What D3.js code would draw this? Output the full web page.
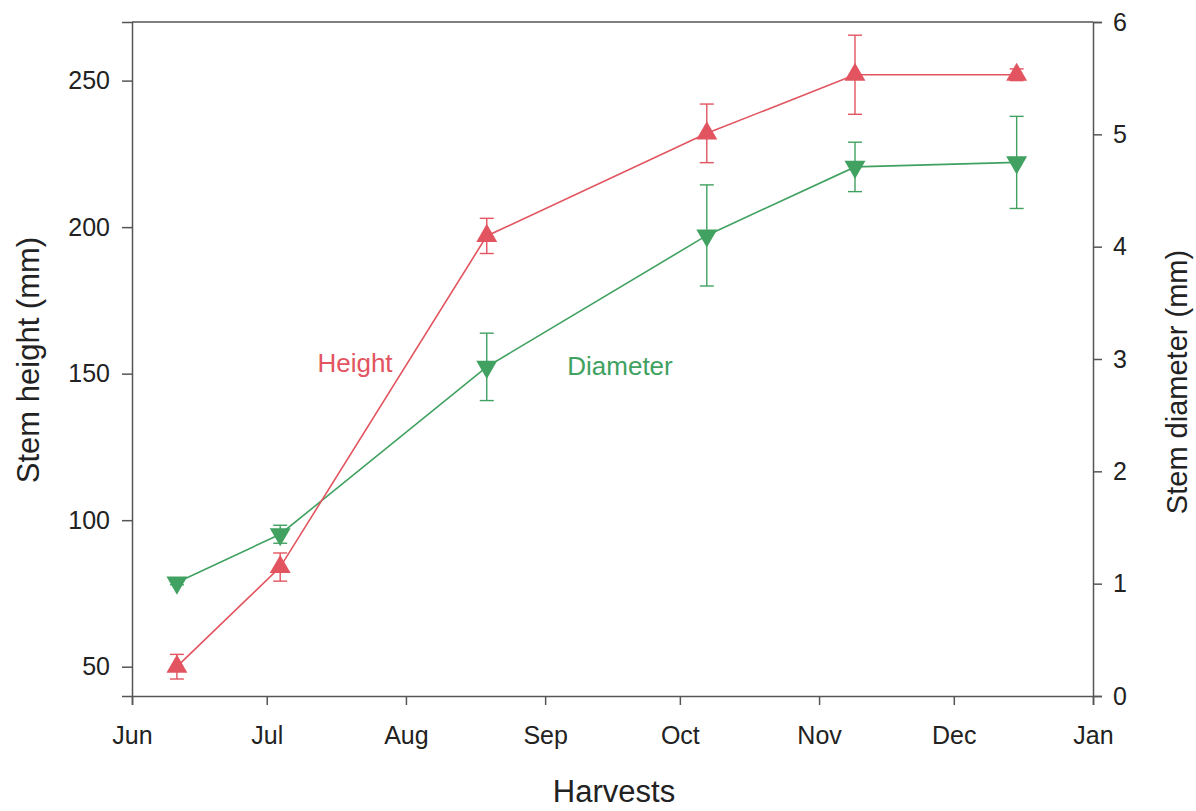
<!DOCTYPE html>
<html>
<head>
<meta charset="utf-8">
<script src="https://cdn.jsdelivr.net/npm/d3@7"></script>
<style>
  html, body { margin: 0; padding: 0; background: #fff; }
  svg { display: block; font-family: "Liberation Sans", Arial, sans-serif; }
</style>
</head>
<body>
<svg id="chart" width="1196" height="811"></svg>
<script>
// Harvest dates (season 2000)
const harvestDates = ["2000-06-11", "2000-07-04", "2000-08-19", "2000-10-07", "2000-11-09", "2000-12-15"];
// Stem height (mm), mean and error
const heightMean = [50, 84, 197, 232, 252, 252];
const heightErr  = [4.2, 4.8, 6, 10, 13.5, 2];
// Stem diameter (mm), mean and error
const diamMean = [1.01, 1.44, 2.93, 4.10, 4.71, 4.75];
const diamErr  = [0.02, 0.08, 0.30, 0.45, 0.22, 0.41];
// Axis ticks
const monthTicks = ["2000-06-01","2000-07-01","2000-08-01","2000-09-01","2000-10-01","2000-11-01","2000-12-01","2001-01-01"];
const heightTicks = [50, 100, 150, 200, 250];
const diamTicks = [0, 1, 2, 3, 4, 5, 6];

const parse = d3.timeParse("%Y-%m-%d");
const svg = d3.select("#chart");
const m = { left: 132, right: 1093, top: 22, bottom: 696 };

const x = d3.scaleTime()
  .domain([parse("2000-06-01"), parse("2001-01-01")])
  .range([m.left, m.right]);
const yH = d3.scaleLinear().domain([40, 270]).range([m.bottom, m.top]);
const yD = d3.scaleLinear().domain([0, 6]).range([m.bottom, m.top]);

const red = "#e2545f";
const green = "#40a160";
const axisColor = "#555";

// top frame line
svg.append("line")
  .attr("x1", m.left).attr("x2", m.right)
  .attr("y1", m.top).attr("y2", m.top)
  .attr("stroke", axisColor).attr("stroke-width", 1.5);

function styleAxis(g) {
  g.attr("font-size", null).attr("font-family", null);
  g.select(".domain").attr("stroke", axisColor).attr("stroke-width", 1.5);
  g.selectAll(".tick line").attr("stroke", axisColor).attr("stroke-width", 1.5);
  g.selectAll(".tick text").attr("fill", "#222").style("font-size", "25px");
}

// bottom axis
svg.append("g")
  .attr("transform", `translate(0,${m.bottom})`)
  .call(d3.axisBottom(x).tickValues(monthTicks.map(parse))
    .tickFormat(d3.timeFormat("%b")).tickSizeOuter(0).tickSize(9).tickPadding(21))
  .call(styleAxis);

// left axis
svg.append("g")
  .attr("transform", `translate(${m.left},0)`)
  .call(d3.axisLeft(yH).tickValues(heightTicks).tickFormat(d3.format("d"))
    .tickSizeOuter(0).tickSize(10).tickPadding(12))
  .call(styleAxis);

// right axis
svg.append("g")
  .attr("transform", `translate(${m.right},0)`)
  .call(d3.axisRight(yD).tickValues(diamTicks).tickFormat(d3.format("d"))
    .tickSizeOuter(0).tickSize(9).tickPadding(11))
  .call(styleAxis);

// axis titles
svg.append("text")
  .attr("transform", "translate(39,360) rotate(-90)")
  .attr("text-anchor", "middle").attr("fill", "#222")
  .style("font-size", "31px").text("Stem height (mm)");
svg.append("text")
  .attr("transform", "translate(1187,382) rotate(-90)")
  .attr("text-anchor", "middle").attr("fill", "#222")
  .style("font-size", "29px").text("Stem diameter (mm)");
svg.append("text")
  .attr("x", 614).attr("y", 802)
  .attr("text-anchor", "middle").attr("fill", "#222")
  .style("font-size", "31px").text("Harvests");

function drawSeries(means, errs, yScale, color, up) {
  const data = harvestDates.map((d, i) => ({ date: parse(d), v: means[i], e: errs[i] }));
  const g = svg.append("g");
  g.append("path").datum(data)
    .attr("fill", "none").attr("stroke", color).attr("stroke-width", 1.6)
    .attr("d", d3.line().x(d => x(d.date)).y(d => yScale(d.v)));
  const eb = g.selectAll(".eb").data(data).enter().append("g");
  eb.append("line")
    .attr("x1", d => x(d.date)).attr("x2", d => x(d.date))
    .attr("y1", d => yScale(d.v - d.e)).attr("y2", d => yScale(d.v + d.e))
    .attr("stroke", color).attr("stroke-width", 1.4);
  [-1, 1].forEach(s => {
    eb.append("line")
      .attr("x1", d => x(d.date) - 7).attr("x2", d => x(d.date) + 7)
      .attr("y1", d => yScale(d.v + s * d.e)).attr("y2", d => yScale(d.v + s * d.e))
      .attr("stroke", color).attr("stroke-width", 1.4);
  });
  const tri = d3.symbol().type(d3.symbolTriangle).size(190);
  g.selectAll(".mk").data(data).enter().append("path")
    .attr("d", tri)
    .attr("transform", d => `translate(${x(d.date)},${yScale(d.v)}) rotate(${up ? 0 : 180})`)
    .attr("fill", color);
}

drawSeries(diamMean, diamErr, yD, green, false);
drawSeries(heightMean, heightErr, yH, red, true);

// series labels
svg.append("text").attr("x", 355).attr("y", 372)
  .attr("text-anchor", "middle").attr("fill", red)
  .style("font-size", "26px").text("Height");
svg.append("text").attr("x", 620).attr("y", 375)
  .attr("text-anchor", "middle").attr("fill", green)
  .style("font-size", "26px").text("Diameter");
</script>
</body>
</html>
